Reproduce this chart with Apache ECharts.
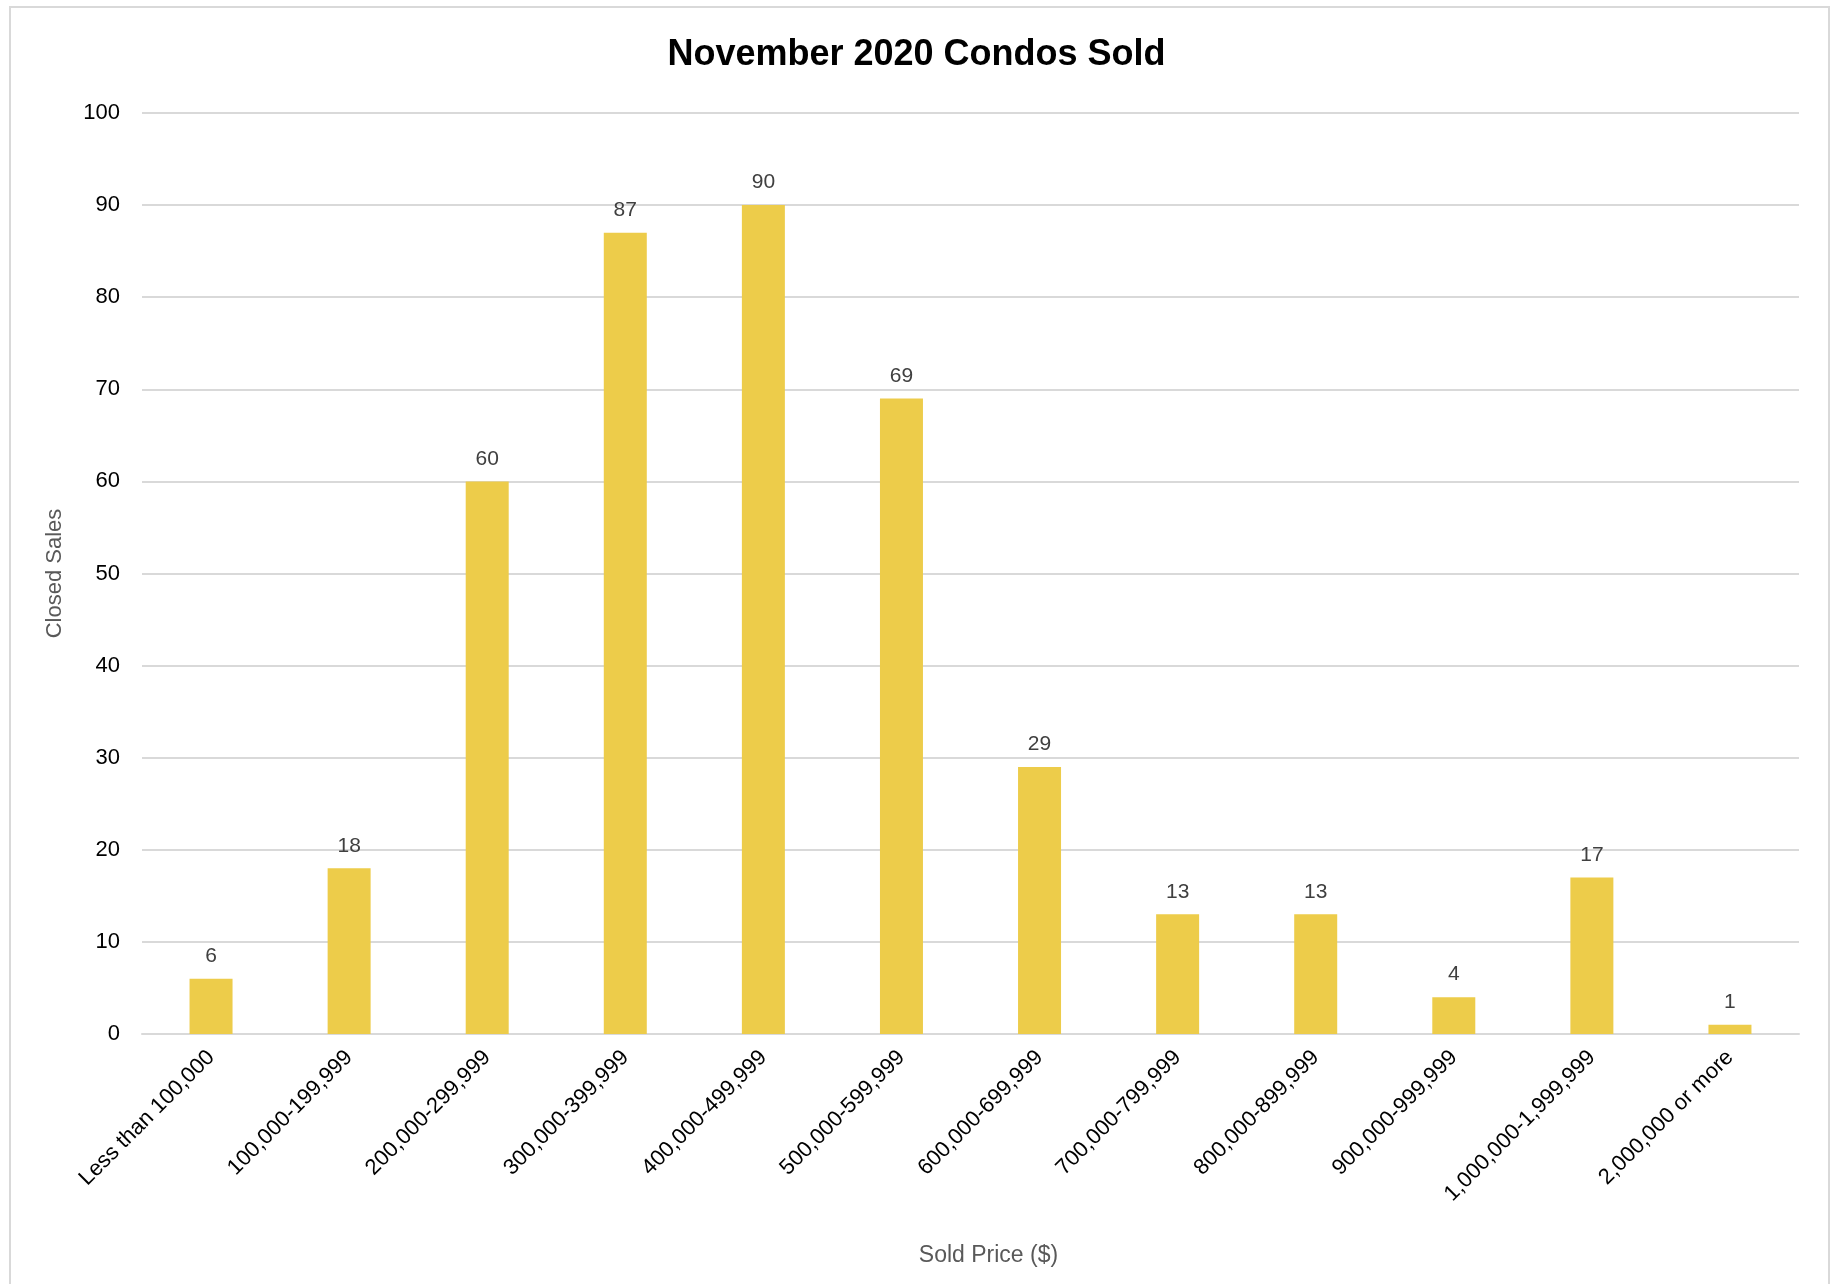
<!DOCTYPE html>
<html>
<head>
<meta charset="utf-8">
<script src="https://cdn.jsdelivr.net/npm/echarts@6/dist/echarts.min.js"></script>
<style>
html,body{margin:0;padding:0;background:#fff;}
#chart{width:1833px;height:1284px;}
</style>
</head>
<body>
<div id="chart"></div>
<script>
const titleText = 'November 2020 Condos Sold';
const categories = ['Less than 100,000','100,000-199,999','200,000-299,999','300,000-399,999','400,000-499,999','500,000-599,999','600,000-699,999','700,000-799,999','800,000-899,999','900,000-999,999','1,000,000-1,999,999','2,000,000 or more'];
const closedSales = [6, 18, 60, 87, 90, 69, 29, 13, 13, 4, 17, 1];
const yAxisName = 'Closed Sales';
const xAxisName = 'Sold Price ($)';

const FONT = 'Liberation Sans';
const chart = echarts.init(document.getElementById('chart'));
chart.setOption({
  animation: false,
  backgroundColor: '#ffffff',
  textStyle: { fontFamily: FONT },
  title: {
    text: titleText,
    left: 'center',
    top: 32,
    textStyle: { fontFamily: FONT, fontSize: 36, fontWeight: 'bold', color: '#000000' }
  },
  graphic: [{
    type: 'rect',
    z: -10,
    shape: { x: 10, y: 7, width: 1819, height: 1300 },
    style: { fill: 'none', stroke: '#d9d9d9', lineWidth: 2 }
  }],
  grid: { left: 142, right: 34, top: 113, bottom: 250, outerBoundsMode: 'none' },
  xAxis: {
    type: 'category',
    data: categories,
    name: xAxisName,
    nameLocation: 'middle',
    nameGap: 210,
    nameTextStyle: { fontFamily: FONT, fontSize: 23, color: '#595959', padding: [0, 0, 0, 36] },
    axisLine: { lineStyle: { color: '#d9d9d9', width: 2 } },
    axisTick: { show: false },
    axisLabel: { interval: 0, rotate: 45, margin: 20, fontFamily: FONT, fontSize: 22, color: '#000000' }
  },
  yAxis: {
    type: 'value',
    min: 0,
    max: 100,
    interval: 10,
    name: yAxisName,
    nameLocation: 'middle',
    nameGap: 76,
    nameTextStyle: { fontFamily: FONT, fontSize: 22, color: '#595959' },
    axisLine: { show: false },
    axisTick: { show: false },
    axisLabel: { margin: 22, fontFamily: FONT, fontSize: 22, color: '#000000' },
    splitLine: { lineStyle: { color: '#d9d9d9', width: 2 } }
  },
  series: [{
    type: 'bar',
    data: closedSales,
    barWidth: 43,
    itemStyle: { color: '#EDCC4A' },
    label: { show: true, position: 'top', distance: 12, fontFamily: FONT, fontSize: 21, color: '#404040' }
  }]
});
</script>
</body>
</html>
